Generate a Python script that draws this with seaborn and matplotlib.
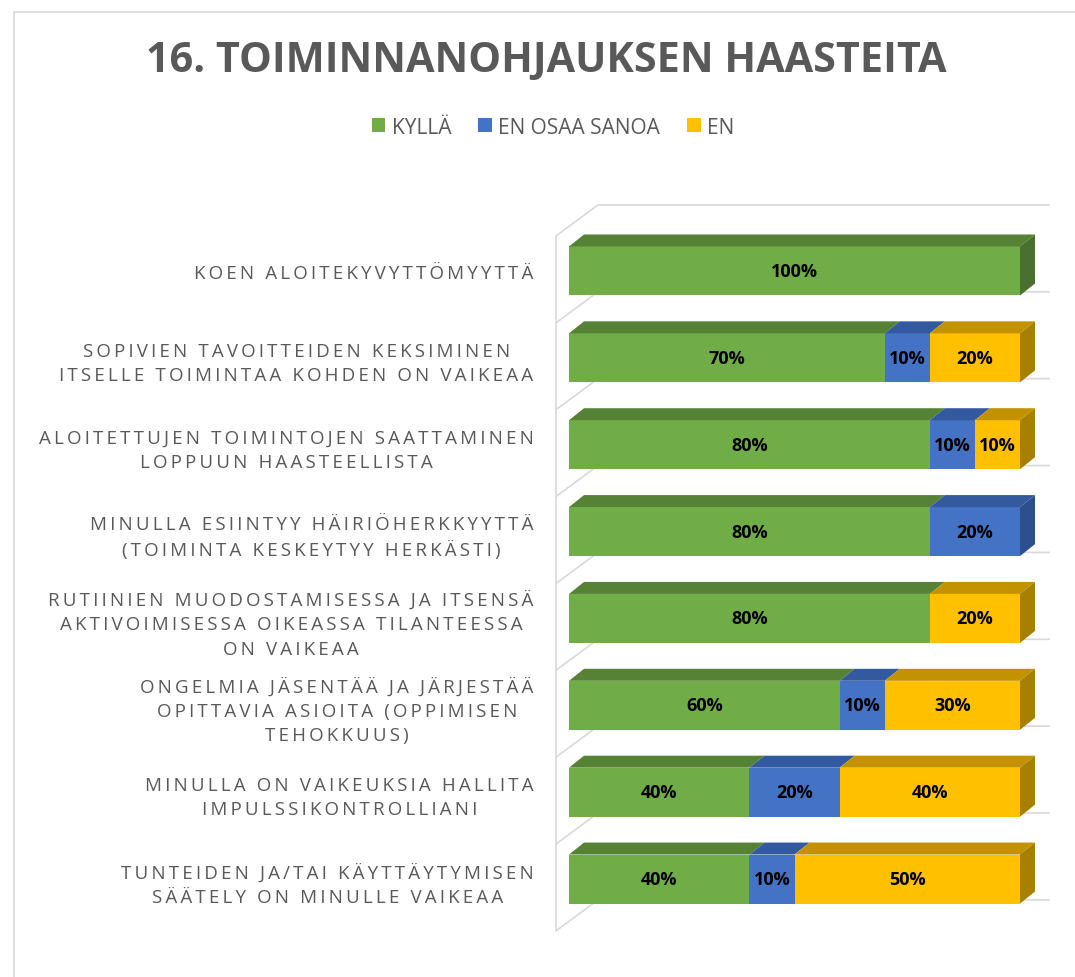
import matplotlib
matplotlib.use("Agg")
import matplotlib.pyplot as plt
from matplotlib.patches import Polygon, Patch, Rectangle
import numpy as np
import pandas as pd
import seaborn as sns

# ── Data ─────────────────────────────────────────────────────────────────────
categories = [
    "KOEN ALOITEKYVYTTÖMYYTTÄ",
    "SOPIVIEN TAVOITTEIDEN KEKSIMINEN\nITSELLE TOIMINTAA KOHDEN ON VAIKEAA",
    "ALOITETTUJEN TOIMINTOJEN SAATTAMINEN\nLOPPUUN HAASTEELLISTA",
    "MINULLA ESIINTYY HÄIRIÖHERKKYYTTÄ\n(TOIMINTA KESKEYTYY HERKÄSTI)",
    "RUTIINIEN MUODOSTAMISESSA JA ITSENSÄ\nAKTIVOIMISESSA OIKEASSA TILANTEESSA\nON VAIKEAA",
    "ONGELMIA JÄSENTÄÄ JA JÄRJESTÄÄ\nOPITTAVIA ASIOITA (OPPIMISEN\nTEHOKKUUS)",
    "MINULLA ON VAIKEUKSIA HALLITA\nIMPULSSIKONTROLLIANI",
    "TUNTEIDEN JA/TAI KÄYTTÄYTYMISEN\nSÄÄTELY ON MINULLE VAIKEAA",
]
series_names = ["KYLLÄ", "EN OSAA SANOA", "EN"]
kylla = [100, 70, 80, 80, 80, 60, 40, 40]
en_osaa = [0, 10, 10, 20, 0, 10, 20, 10]
en = [0, 20, 10, 0, 20, 30, 40, 50]

title = "16. TOIMINNANOHJAUKSEN HAASTEITA"

# front / top / side shades per series
front_colors = ["#70AD47", "#4472C4", "#FFC000"]
top_colors = ["#568235", "#335A9E", "#C29200"]
side_colors = ["#4A7030", "#2C4F8E", "#A88000"]

GRAY = "#595959"
GRID = "#D9D9D9"
FONT = ["Open Sans", "DejaVu Sans"]


def spaced(text: str, sep: str = "\u2009") -> str:
    # emulate the wide letter tracking of the original labels
    return "\n".join(sep.join(line) for line in text.split("\n"))


# ── Figure ───────────────────────────────────────────────────────────────────
sns.set_theme(style="white")
plt.rcParams["font.family"] = FONT

W, H = 1075, 978
fig = plt.figure(figsize=(W / 100, H / 100), dpi=100)
ax = fig.add_axes([553 / W, 1 - 945 / H, 497 / W, 750 / H])

values = np.array([kylla, en_osaa, en], dtype=float)
cum = np.cumsum(values, axis=0)
left = cum - values

bar_h = 0.564
dx, dy = 3.33, 0.138

# 3D walls / gridlines behind the bars
n = len(categories)
x_wall, x_back, x_end = -2.88, 6.43, 106.65
for k in range(n + 1):
    yb = -0.760 + k
    yf = -0.403 + k
    ax.plot([x_wall, x_back, x_end], [yf, yb, yb], color=GRID, lw=1.2,
            zorder=0, solid_capstyle="butt")
ax.plot([x_wall, x_wall], [-0.403, -0.403 + n], color=GRID, lw=1.2, zorder=0)

# front faces (stacked via cumulative totals, drawn back to front)
for s in reversed(range(3)):
    df = pd.DataFrame({"category": categories, "end": cum[s]})
    sns.barplot(data=df, x="end", y="category", order=categories, orient="h",
                color=front_colors[s], saturation=1, width=bar_h,
                linewidth=0, ax=ax, zorder=2)

# top and side faces + value labels
for i in range(n):
    y_top = i - bar_h / 2
    y_bot = i + bar_h / 2
    nonzero = [s for s in range(3) if values[s, i] > 0]
    for s in nonzero:
        l, r = left[s, i], cum[s, i]
        ax.add_patch(Polygon([(l, y_top), (r, y_top), (r + dx, y_top - dy),
                              (l + dx, y_top - dy)], closed=True,
                             facecolor=top_colors[s], edgecolor="none", zorder=3))
        ax.text((l + r) / 2, i, f"{values[s, i]:.0f}%", ha="center", va="center",
                fontsize=13, fontweight="bold", color="black", zorder=5)
    last = nonzero[-1]
    r = cum[last, i]
    ax.add_patch(Polygon([(r, y_top), (r + dx, y_top - dy), (r + dx, y_bot - dy),
                          (r, y_bot)], closed=True,
                         facecolor=side_colors[last], edgecolor="none", zorder=3))

ax.set_xlim(-3.548, 106.65)
ax.set_ylim(7.748, -0.886)
ax.set_xlabel("")
ax.set_ylabel("")
ax.set_xticks([])
ax.set_yticks(range(n))
ax.set_yticklabels([spaced(c) for c in categories], fontsize=13.5, color=GRAY,
                   multialignment="center", linespacing=1.45, family=FONT)
ax.tick_params(axis="y", length=0, pad=14)
for sp in ax.spines.values():
    sp.set_visible(False)
ax.set_facecolor("none")

# title and legend
fig.text(546 / W, 1 - 61 / H, title, ha="center", va="center",
         fontsize=29.8, fontweight="bold", color=GRAY)
handles = [Patch(facecolor=c, edgecolor="none") for c in front_colors]
fig.legend(handles, series_names, loc="center", bbox_to_anchor=(553 / W, 1 - 128 / H),
           ncol=3, frameon=False, fontsize=15, labelcolor=GRAY,
           handlelength=0.65, handleheight=0.65, handletextpad=0.3,
           columnspacing=1.3)

# outer chart border (top and left edges visible)
fig.add_artist(Rectangle((14 / W, -0.05), 1.1, 1 - 13 / H + 0.05,
                         transform=fig.transFigure, fill=False,
                         edgecolor=GRID, lw=1.2))

fig.savefig("out.png", dpi=100)
